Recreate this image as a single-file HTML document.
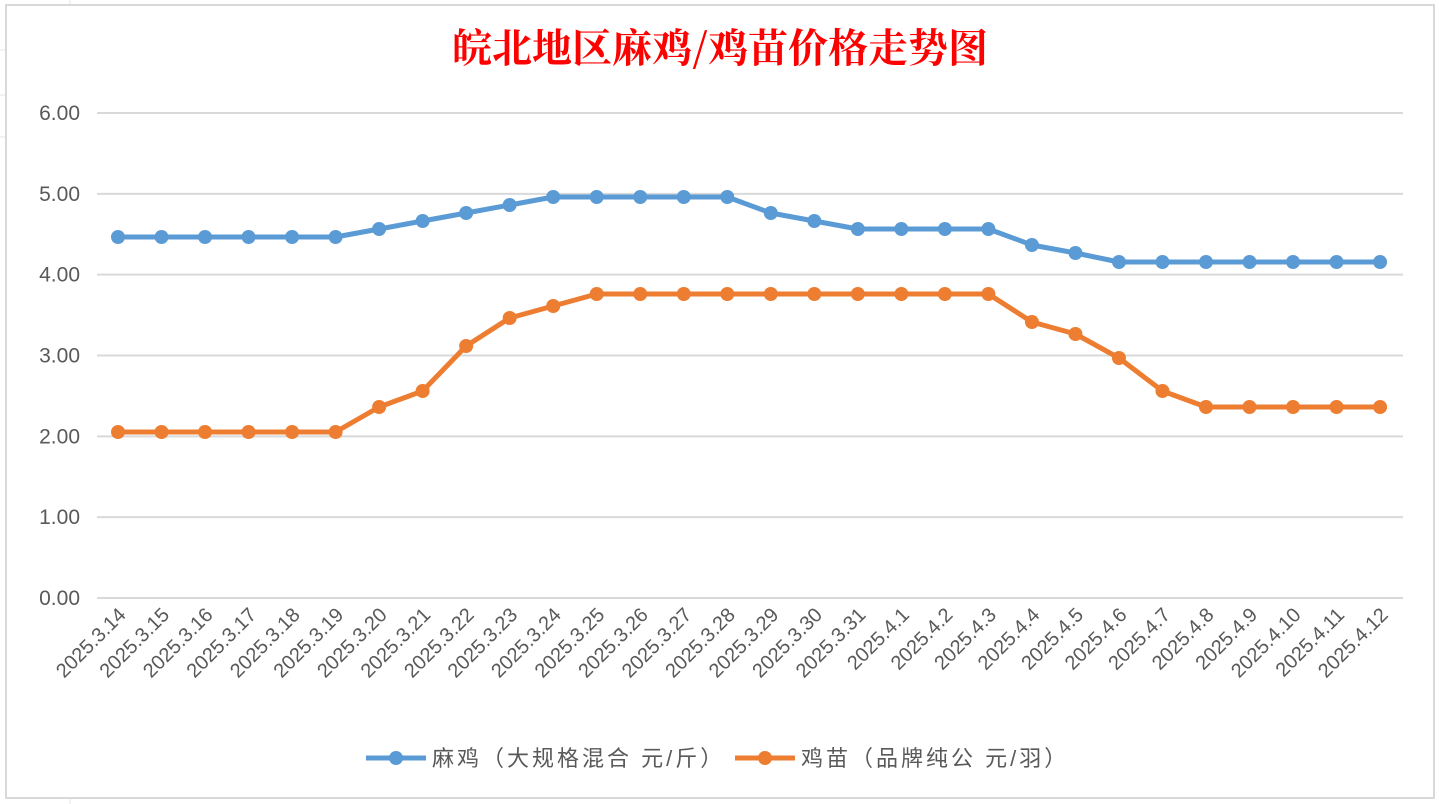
<!DOCTYPE html>
<html><head><meta charset="utf-8">
<style>
html,body{margin:0;padding:0;background:#fff;width:1439px;height:804px;overflow:hidden}
svg text{font-family:"Liberation Sans","Noto Sans CJK SC",sans-serif}
</style></head>
<body>
<svg id="s" width="1439" height="804" xmlns="http://www.w3.org/2000/svg">
<rect x="0" y="0" width="1439" height="804" fill="#fff"/>
<g stroke="#e6e6e6" stroke-width="1">
<line x1="70" y1="0" x2="70" y2="5"/><line x1="70" y1="799" x2="70" y2="804"/>
<line x1="0" y1="50" x2="5" y2="50"/><line x1="0" y1="95" x2="5" y2="95"/><line x1="0" y1="137" x2="5" y2="137"/>
</g>
<rect x="6" y="5" width="1428" height="793" fill="#fff" stroke="#d9d9d9" stroke-width="2"/>
<text x="720" y="62" text-anchor="middle" fill="#ff0000" font-size="40" font-weight="bold" style="font-family:'Noto Serif CJK SC',serif">皖北地区麻鸡/鸡苗价格走势图</text>
<g id="grid"></g>
<g id="lbl"></g>
<g id="ser"></g>
<g>
<line x1="366" y1="758" x2="426" y2="758" stroke="#5b9bd5" stroke-width="5"/>
<circle cx="396" cy="758" r="7" fill="#5b9bd5"/>
<text x="432" y="766" font-size="22" letter-spacing="3" fill="#595959">麻鸡（大规格混合 元/斤）</text>
<line x1="735" y1="758" x2="795" y2="758" stroke="#ed7d31" stroke-width="5"/>
<circle cx="765" cy="758" r="7" fill="#ed7d31"/>
<text x="801" y="766" font-size="22" letter-spacing="3" fill="#595959">鸡苗（品牌纯公 元/羽）</text>
</g>
</svg>
<script>
var ns="http://www.w3.org/2000/svg";
function el(p,t,a,txt){var e=document.createElementNS(ns,t);for(var k in a)e.setAttribute(k,a[k]);if(txt)e.textContent=txt;document.getElementById(p).appendChild(e);return e;}
for(var v=0;v<=6;v++){var y=598-80.83*v;
el("grid","line",{x1:97,x2:1403,y1:y,y2:y,stroke:"#d9d9d9","stroke-width":2});
el("grid","text",{x:80,y:y+7,"text-anchor":"end","font-size":21,fill:"#595959"},v.toFixed(2));}
var d=[];for(var i=14;i<=31;i++)d.push("2025.3."+i);for(var i=1;i<=12;i++)d.push("2025.4."+i);
var b=[237,237,237,237,237,237,229,221,213,205,197,197,197,197,197,213,221,229,229,229,229,245,253,262,262,262,262,262,262,262];
var o=[432,432,432,432,432,432,407,391,346,318,306,294,294,294,294,294,294,294,294,294,294,322,334,358,391,407,407,407,407,407];
function X(i){return 118+43.52*i;}
for(var i=0;i<30;i++){var x=X(i)+9,y=616;
el("lbl","text",{x:x,y:y,"text-anchor":"end","font-size":20,fill:"#595959",transform:"rotate(-45 "+x+" "+y+")"},d[i]);}
[[b,"#5b9bd5"],[o,"#ed7d31"]].forEach(function(s){
var p=s[0].map(function(y,i){return X(i)+","+y}).join(" ");
el("ser","polyline",{points:p,fill:"none",stroke:s[1],"stroke-width":5,"stroke-linejoin":"round"});
s[0].forEach(function(y,i){el("ser","circle",{cx:X(i),cy:y,r:7,fill:s[1]});});});
</script>
</body></html>
